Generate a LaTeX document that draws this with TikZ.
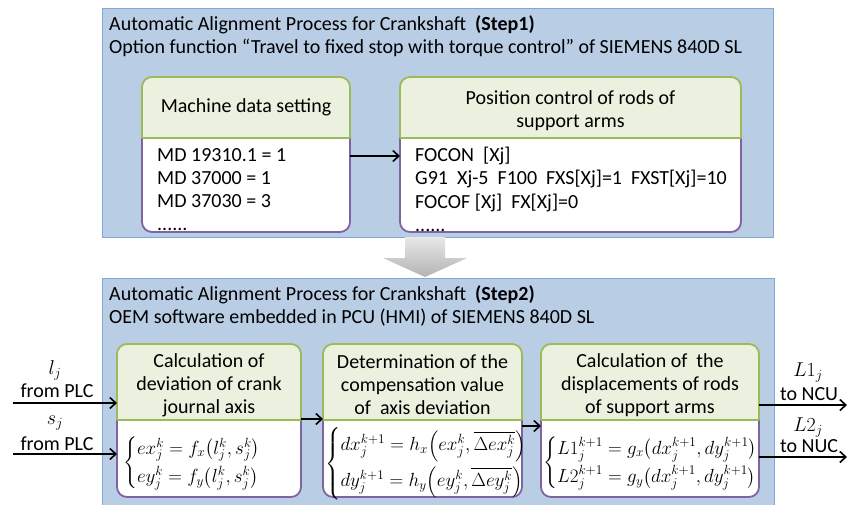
\RequirePackage{fix-cm}
\documentclass[tikz,border=0pt]{standalone}
\usepackage{amsmath}
\usepackage{fontspec}
\setmainfont{Carlito}
\usetikzlibrary{arrows.meta}
\definecolor{panelfill}{HTML}{B9CDE5}
\definecolor{panelline}{HTML}{7FA7D9}
\definecolor{hdrfill}{HTML}{EBF1DE}
\definecolor{hdrline}{HTML}{9BBB59}
\definecolor{bodyline}{HTML}{8064A2}
\newcommand\hdrshape[1]{%
  \filldraw[hdrdraw] (#1.south west) -- (#1.north west) -- (#1.north east) -- (#1.south east);
  \draw[hdrline, line width=1.8pt] (#1.south west) -- (#1.south east);}
\newcommand\bodyshape[1]{%
  \filldraw[bodydraw] (#1.north west) -- (#1.south west) -- (#1.south east) -- (#1.north east);}
\begin{document}
\begin{tikzpicture}[x=1pt,y=-1pt,
  font=\fontsize{20}{23}\selectfont,
  panel/.style={draw=panelline, fill=panelfill, line width=1pt, inner sep=0pt, outer sep=0pt, anchor=north west},
  hdr/.style={inner sep=0pt, outer sep=0pt, align=center, anchor=north west},
  bodyarea/.style={inner sep=0pt, outer sep=0pt, anchor=north west},
  hdrdraw/.style={fill=hdrfill, draw=hdrline, line width=1.8pt, rounded corners=10pt},
  bodydraw/.style={fill=white, draw=bodyline, line width=1.8pt, rounded corners=10pt},
  bodytxt/.style={inner sep=0pt, align=left, font=\fontsize{20}{23.2}\selectfont},
  eqtxt/.style={inner sep=0pt, anchor=west, font=\fontsize{19}{22}\selectfont},
  lbl/.style={inner sep=0pt},
  arr/.style={line width=1.6pt, -{Straight Barb[length=6pt,width=11pt,line width=1.6pt]}}
]
\useasboundingbox (0,0) rectangle (856,504);
\fill[white] (0,0) rectangle (856,504);

% ---------- Step 1 panel
\node[panel, minimum width=671pt, minimum height=229pt] (p1) at (102,8) {};
\node[lbl, anchor=west] (t1a) at (109,25) {Automatic Alignment Process for Crankshaft\ \ \textbf{(Step1)}};
\node[lbl, anchor=west] (t1b) at (109,48) {Option function “Travel to fixed stop with torque control” of SIEMENS 840D SL};

\node[bodyarea, minimum width=208pt, minimum height=94pt] (mb) at (142,138) {};
\node[hdr, minimum width=208pt, minimum height=61pt] (mh) at (142,77) {};
\bodyshape{mb}\hdrshape{mh}
\node[hdr, anchor=center] (mht) at (mh.center) {Machine data setting};
\node[bodytxt, anchor=north west] (mt) at (157,148) {MD 19310.1 = 1\\MD 37000 = 1\\MD 37030 = 3\\......};

\node[bodyarea, minimum width=341pt, minimum height=94pt] (pb) at (400,138) {};
\node[hdr, minimum width=341pt, minimum height=61pt] (ph) at (400,77) {};
\bodyshape{pb}\hdrshape{ph}
\node[hdr, anchor=center] (pht) at ([yshift=-3pt]ph.center) {Position control of rods of\\support arms};
\node[bodytxt, anchor=north west] (ptx) at (415,147) {FOCON\ \ [Xj]\\G91\ \ Xj-5\ \ F100\ \ FXS[Xj]=1\ \ FXST[Xj]=10\\FOCOF [Xj]\ \ FX[Xj]=0\\......};

\draw[arr] ([yshift=-18pt]mb.north east) -- ([yshift=-18pt]pb.north west);

% ---------- big gray arrow
\shade[top color=black!9, bottom color=black!30]
  (405,237) -- (445,237) -- (445,258) -- (467,258) -- (425,277) -- (383,258) -- (405,258) -- cycle;

% ---------- Step 2 panel
\node[panel, minimum width=672pt, minimum height=232pt] (p2) at (102,278) {};
\node[lbl, anchor=west] (t2a) at (109,295) {Automatic Alignment Process for Crankshaft\ \ \textbf{(Step2)}};
\node[lbl, anchor=west] (t2b) at (109,318) {OEM software embedded in PCU (HMI) of SIEMENS 840D SL};

\node[bodyarea, minimum width=184pt, minimum height=77pt] (c1b) at (117,420) {};
\node[hdr, minimum width=184pt, minimum height=76pt] (c1h) at (117,344) {};
\node[bodyarea, minimum width=199pt, minimum height=77pt] (c2b) at (323,420) {};
\node[hdr, minimum width=199pt, minimum height=76pt] (c2h) at (323,344) {};
\node[bodyarea, minimum width=218pt, minimum height=77pt] (c3b) at (541,420) {};
\node[hdr, minimum width=218pt, minimum height=76pt] (c3h) at (541,344) {};
\bodyshape{c1b}\hdrshape{c1h}
\bodyshape{c2b}\hdrshape{c2h}
\bodyshape{c3b}\hdrshape{c3h}

\node[hdr, anchor=center] (c1t) at ([yshift=-3pt]c1h.center) {Calculation of\\deviation of crank\\journal axis};
\node[hdr, anchor=center] (c2t) at ([yshift=-3pt]c2h.center) {Determination of the\\compensation value\\of\ \ axis deviation};
\node[hdr, anchor=center] (c3t) at ([yshift=-3pt]c3h.center) {Calculation of\ \ the\\displacements of rods\\of support arms};

\node[eqtxt] (e1) at (123,463) {$\begin{cases} ex_j^k = f_x\bigl(l_j^k,s_j^k\bigr)\\[2pt] ey_j^k = f_y\bigl(l_j^k,s_j^k\bigr)\end{cases}$};
\node[eqtxt] (e2) at (325,464) {$\begin{cases} dx_j^{k+1} = h_x\Bigl(ex_j^k,\overline{\Delta ex_j^k}\Bigr)\\[6pt] dy_j^{k+1} = h_y\Bigl(ey_j^k,\overline{\Delta ey_j^k}\Bigr)\end{cases}$};
\node[eqtxt] (e3) at (543,463) {$\begin{cases} L1_j^{k+1} = g_x\bigl(dx_j^{k+1},dy_j^{k+1}\bigr)\\[2pt] L2_j^{k+1} = g_y\bigl(dx_j^{k+1},dy_j^{k+1}\bigr)\end{cases}$};

\draw[arr] ([yshift=1pt]c1h.south east) -- ([yshift=1pt]c2h.south west);
\draw[arr] ([yshift=-6pt]c2b.north east) -- ([yshift=-6pt]c3b.north west);

% inputs
\coordinate (in1) at (13,403);
\coordinate (in2) at (13,454);
\draw[arr] (in1) -- (in1 -| c1h.west);
\draw[arr] (in2) -- (in2 -| c1b.west);
\node[lbl] (lj) at (55,370) {$l_j$};
\node[lbl] (fp1) at (57,391) {from PLC};
\node[lbl] (sj) at (55,423) {$s_j$};
\node[lbl] (fp2) at (57,444) {from PLC};

% outputs
\coordinate (out1) at (847,405);
\coordinate (out2) at (847,457);
\draw[arr] (out1 -| c3h.east) -- (out1);
\draw[arr] (out2 -| c3b.east) -- (out2);
\node[lbl] (l1j) at (808,373) {$L1_j$};
\node[lbl] (ncu) at (809,394) {to NCU};
\node[lbl] (l2j) at (808,428) {$L2_j$};
\node[lbl] (nuc) at (809,446) {to NUC};
\end{tikzpicture}
\end{document}
